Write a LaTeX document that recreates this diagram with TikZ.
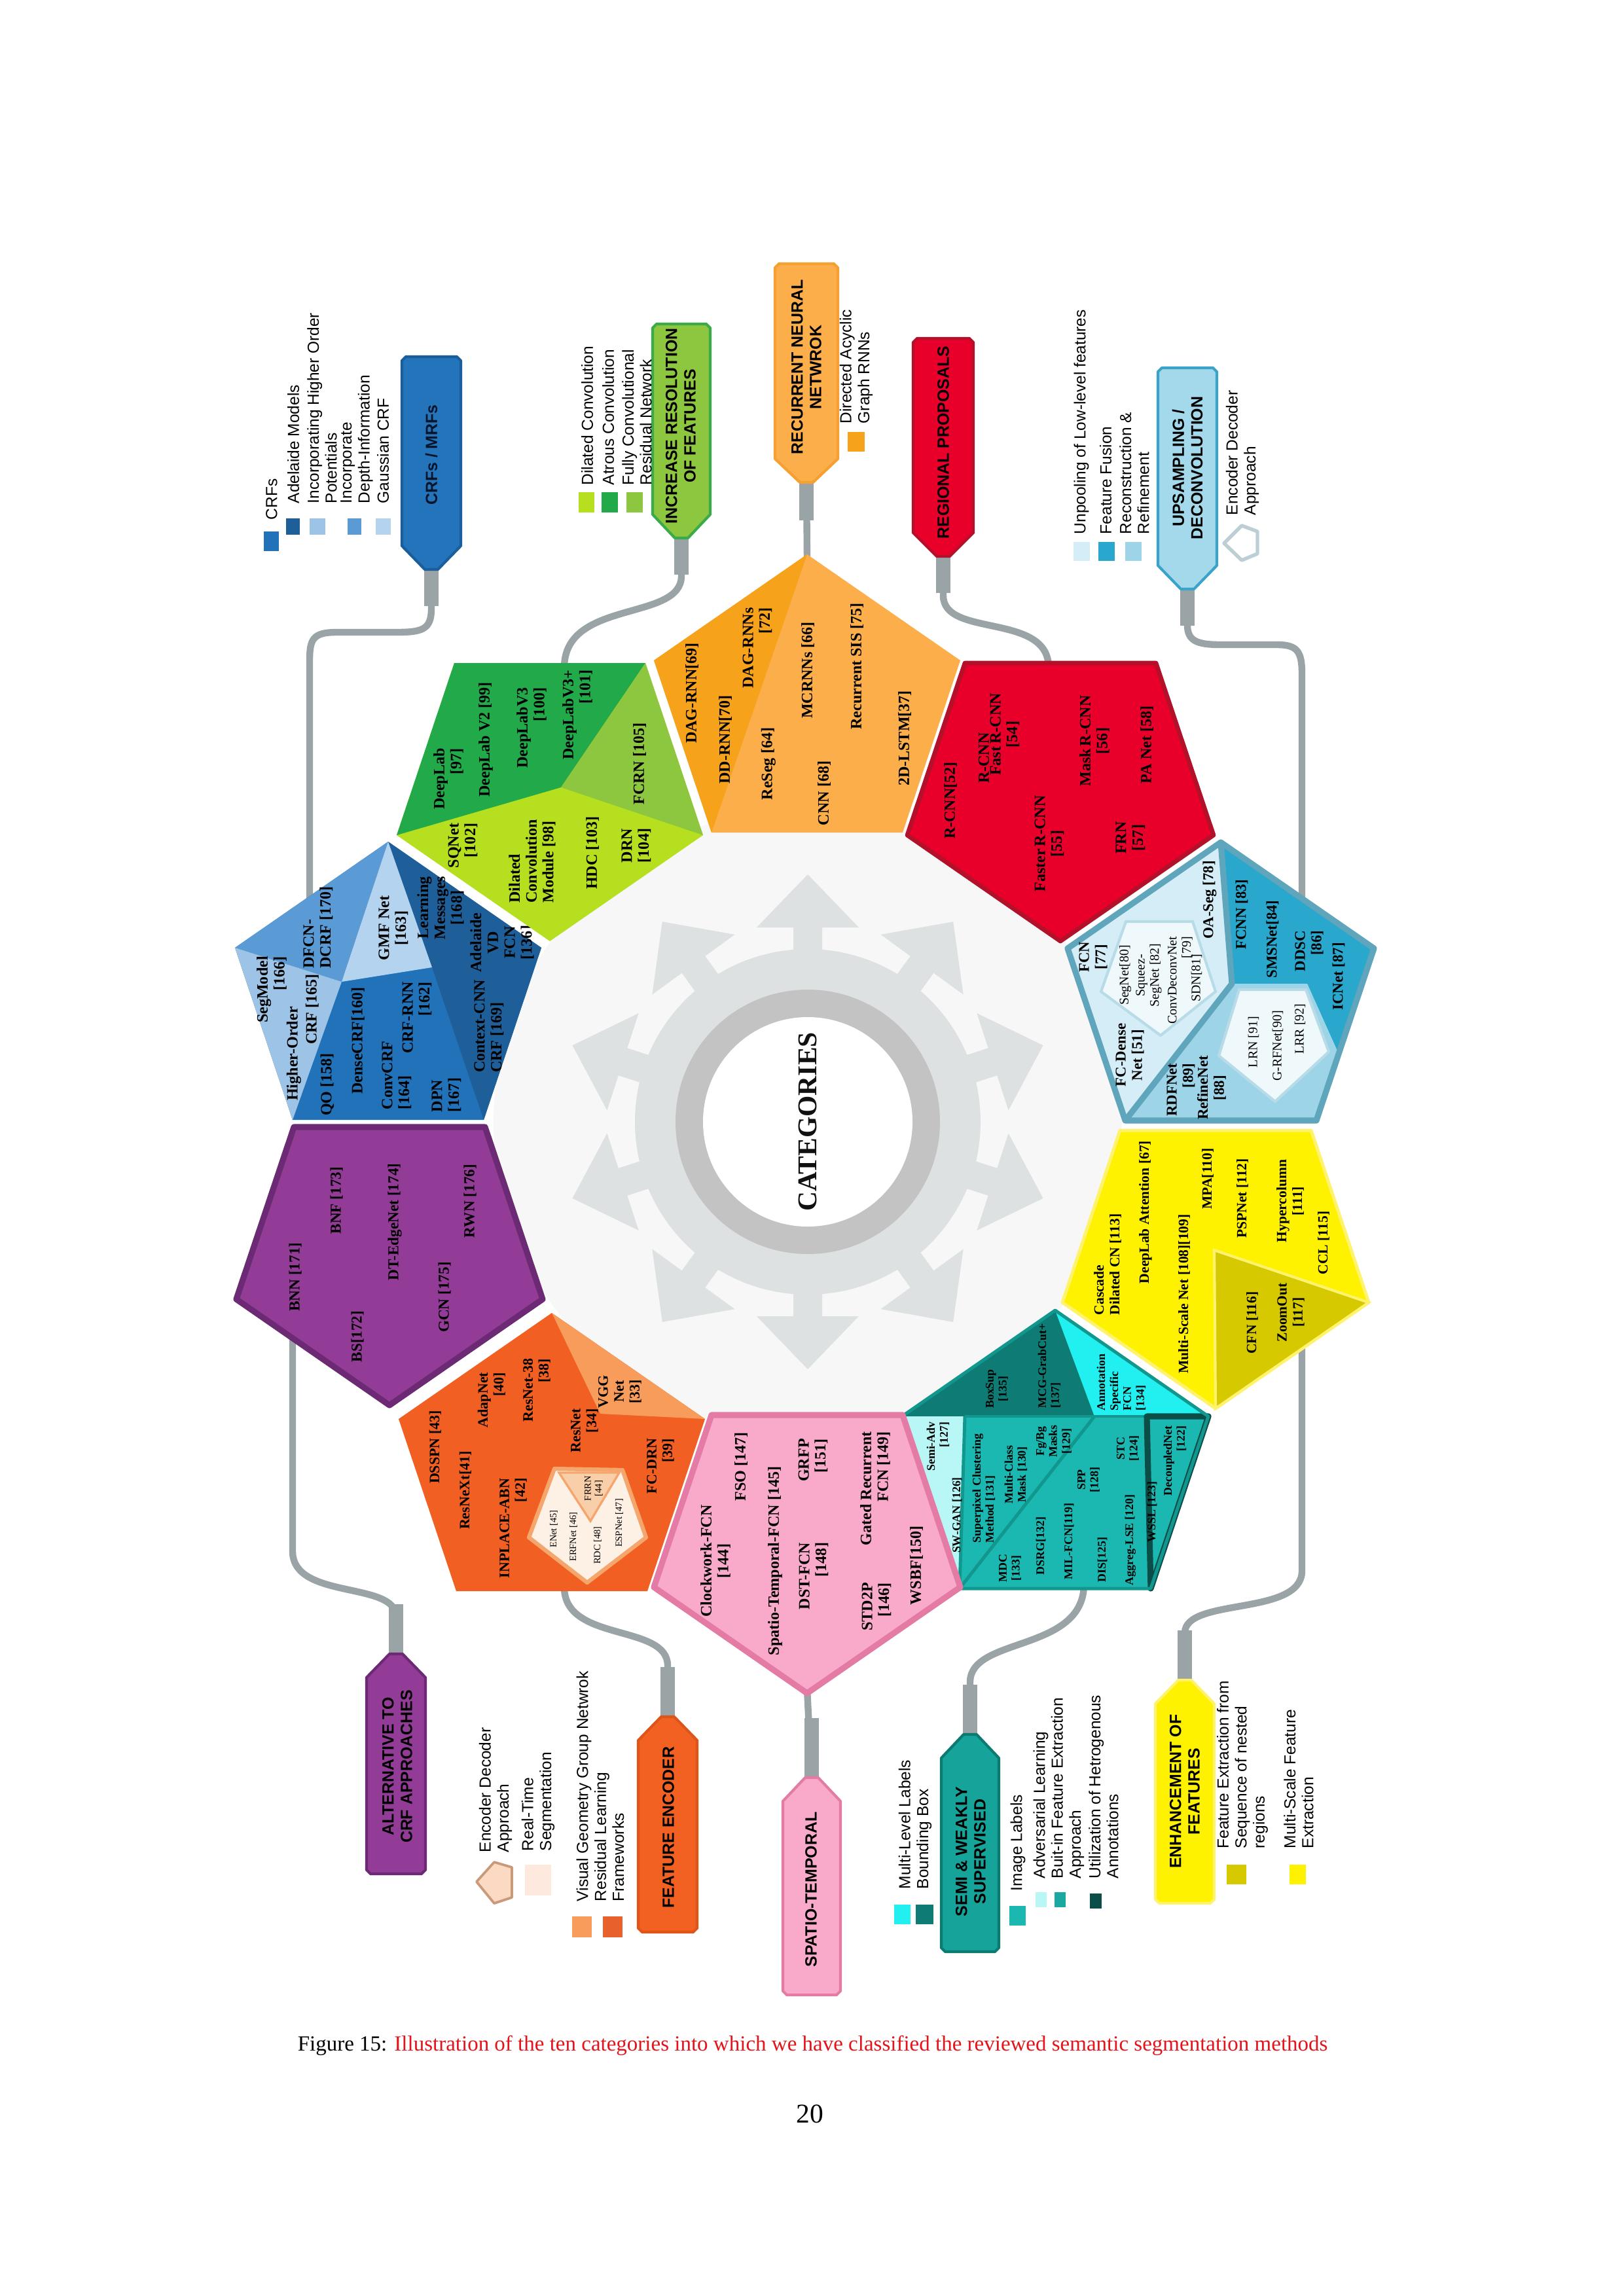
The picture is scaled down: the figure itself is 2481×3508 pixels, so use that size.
\documentclass[tikz,border=0pt]{standalone}
\usepackage{fontspec}
\setmainfont{Liberation Serif}
\setsansfont{Liberation Sans}
\usetikzlibrary{positioning}

\definecolor{linkgrey}{HTML}{9AA3A6}
\definecolor{discback}{HTML}{F7F7F7}
\definecolor{gearlight}{HTML}{DDE1E2}
\definecolor{gearring}{HTML}{C3C3C3}
\definecolor{gearcore}{HTML}{FFFFFF}
\definecolor{cattext}{HTML}{111111}
\definecolor{crfA}{HTML}{5B9BD5}
\definecolor{crfB}{HTML}{9DC3E6}
\definecolor{crfC}{HTML}{B4D3EF}
\definecolor{crfD}{HTML}{1F5F99}
\definecolor{crfE}{HTML}{2272B9}
\definecolor{crftab}{HTML}{2474BB}
\definecolor{crftabline}{HTML}{1B5E9C}
\definecolor{crftext}{HTML}{06152A}
\definecolor{irdark}{HTML}{22A94A}
\definecolor{irolive}{HTML}{8DC63F}
\definecolor{irlime}{HTML}{B6E01F}
\definecolor{irtabline}{HTML}{3BAA48}
\definecolor{rnndark}{HTML}{F7A21B}
\definecolor{rnnlight}{HTML}{FBAE4A}
\definecolor{rnntabline}{HTML}{F5A030}
\definecolor{rpred}{HTML}{E8002B}
\definecolor{rpline}{HTML}{B3102A}
\definecolor{uplight}{HTML}{D5EDF6}
\definecolor{upteal}{HTML}{2AA7CC}
\definecolor{upmid}{HTML}{9DD4E7}
\definecolor{upinner}{HTML}{EFF8FB}
\definecolor{upinnerline}{HTML}{B7DCE8}
\definecolor{upline}{HTML}{5FA5BC}
\definecolor{uptab}{HTML}{A4D8EB}
\definecolor{uptabline}{HTML}{3BA3C9}
\definecolor{upicon}{HTML}{BCCFD5}
\definecolor{enyellow}{HTML}{FFF200}
\definecolor{enolive}{HTML}{D6C900}
\definecolor{enline}{HTML}{FFF36E}
\definecolor{sedark}{HTML}{0E7C74}
\definecolor{secyan}{HTML}{22F0F0}
\definecolor{selight}{HTML}{B9F6F6}
\definecolor{semain}{HTML}{1AB8B0}
\definecolor{seborder}{HTML}{0B4E49}
\definecolor{seline}{HTML}{12978F}
\definecolor{setab}{HTML}{16A399}
\definecolor{setabline}{HTML}{0B7A71}
\definecolor{seleg}{HTML}{19A9A0}
\definecolor{stpink}{HTML}{F9A9C9}
\definecolor{stline}{HTML}{E47BA4}
\definecolor{femain}{HTML}{F15F22}
\definecolor{felight}{HTML}{F89C5C}
\definecolor{feinner}{HTML}{FDF0E4}
\definecolor{feinnerline}{HTML}{F4A66D}
\definecolor{fetri}{HTML}{F8CFA8}
\definecolor{fetab}{HTML}{F26122}
\definecolor{fetabline}{HTML}{DD5519}
\definecolor{felegpale}{HTML}{FDE9DD}
\definecolor{felegicon}{HTML}{FCD9C2}
\definecolor{felegiconline}{HTML}{C89A7A}
\definecolor{felegdark}{HTML}{E8602A}
\definecolor{alpurple}{HTML}{933C97}
\definecolor{alline}{HTML}{6D2A74}
\definecolor{capred}{HTML}{E3141B}

% pentagon outlines: centre x, top y
\newcommand{\pentup}[2]{(#1,#2) -- ({#1+234},{#2+162}) -- ({#1+146},{#2+425}) -- ({#1-146},{#2+425}) -- ({#1-234},{#2+162}) -- cycle}
\newcommand{\pentdown}[2]{({#1-146},#2) -- ({#1+146},#2) -- ({#1+234},{#2+263}) -- (#1,{#2+425}) -- ({#1-234},{#2+263}) -- cycle}
% category tabs: centre x, half width, first y, second y
\newcommand{\tabdown}[4]{({#1-#2},{#3+6}) -- ({#1-#2+6},#3) -- ({#1+#2-6},#3) -- ({#1+#2},{#3+6}) -- ({#1+#2},{#4-36}) -- ({#1+10},#4) -- ({#1-10},#4) -- ({#1-#2},{#4-36}) -- cycle}
\newcommand{\tabup}[4]{({#1-10},#3) -- ({#1+10},#3) -- ({#1+#2},{#3+36}) -- ({#1+#2},{#4-6}) -- ({#1+#2-6},#4) -- ({#1-#2+6},#4) -- ({#1-#2},{#4-6}) -- ({#1-#2},{#3+36}) -- cycle}

\tikzset{
  link/.style={draw=linkgrey, line width=2.5pt},
  plug/.style={draw=linkgrey, line width=5.4pt},
  tabshape/.style={line width=1pt, line join=round},
  tablabel/.style={rotate=90, inner sep=0pt, align=center, font=\sffamily\bfseries\fontsize{6}{6.8}\selectfont},
  legtext/.style={rotate=90, inner sep=0pt, anchor=west, align=left, font=\sffamily\fontsize{5.9}{6.6}\selectfont},
  ptext/.style={rotate=90, inner sep=0pt, font=\bfseries\fontsize{5.8}{6.2}\selectfont},
  ptup/.style={ptext, font=\bfseries\fontsize{5.5}{6}\selectfont},
  ptin/.style={ptext, font=\fontsize{4.8}{5.2}\selectfont},
  ptenh/.style={ptext, font=\bfseries\fontsize{5.2}{5.8}\selectfont},
  ptsemi/.style={ptext, font=\bfseries\fontsize{4.3}{4.8}\selectfont},
  ptfe/.style={ptext, font=\bfseries\fontsize{5.3}{5.8}\selectfont},
  pttiny/.style={ptext, font=\fontsize{3.5}{3.9}\selectfont},
  ptalt/.style={ptext, font=\bfseries\fontsize{5.6}{6.1}\selectfont},
  flushleft/.style={align=left},
  flushright/.style={align=right},
  centred/.style={align=center}
}

\begin{document}
\begin{tikzpicture}[x=0.0846667mm, y=-0.0846667mm]
\useasboundingbox (0,0) rectangle (2481,3508);
\fill[white] (0,0) rectangle (2481,3508);

% hub with ten arrows
\coordinate (hub) at (1234,1714);
\fill[discback] (hub) circle (480);
\fill[gearlight] (hub) circle (264);
\foreach \ang in {18,54,...,342}{
  \begin{scope}[shift={(hub)}, rotate=\ang]
    \fill[gearlight] (240,-22) -- (297,-22) -- (297,-78) -- (378,0) -- (297,78) -- (297,22) -- (240,22) -- cycle;
  \end{scope}
}
\fill[gearring] (hub) circle (202);
\fill[gearcore] (hub) circle (160);
\node[rotate=90, text=cattext, font=\bfseries\fontsize{10}{12}\selectfont] (cat) at (hub) {CATEGORIES};

% connectors
\coordinate (crfTip) at (659,866);  \coordinate (crfIn) at (473,1376);
\coordinate (irTip) at (1041,818);  \coordinate (irIn) at (862,1020);
\coordinate (rnnTip) at (1232,733); \coordinate (rnnIn) at (1233,855);
\coordinate (rpTip) at (1441,846);  \coordinate (rpIn) at (1602,1020);
\coordinate (upTip) at (1814,896);  \coordinate (upIn) at (1989,1380);
\coordinate (alTip) at (605,2531);  \coordinate (alIn) at (447,2040);
\coordinate (feTip) at (1020,2627); \coordinate (feIn) at (862,2425);
\coordinate (stTip) at (1240,2720); \coordinate (stIn) at (1233,2580);
\coordinate (seTip) at (1482,2654); \coordinate (seIn) at (1656,2420);
\coordinate (enTip) at (1810,2571); \coordinate (enIn) at (1989,2055);

\draw[link] (crfTip) -- (659,930) .. controls (659,962) and (645,966) .. (605,966) -- (515,966) .. controls (478,966) and (473,976) .. (473,1010) -- (crfIn);
\draw[link] (irTip) -- (1041,880) .. controls (1041,950) and (862,915) .. (irIn);
\draw[link] (rnnTip) -- (rnnIn);
\draw[link] (rpTip) -- (1441,910) .. controls (1441,975) and (1602,935) .. (rpIn);
\draw[link] (upTip) -- (1814,955) .. controls (1814,980) and (1830,985) .. (1865,985) -- (1950,985) .. controls (1982,985) and (1989,995) .. (1989,1030) -- (upIn);
\draw[link] (alIn) -- (447,2370) .. controls (447,2445) and (605,2415) .. (605,2470) -- (alTip);
\draw[link] (feIn) .. controls (862,2510) and (1020,2480) .. (1020,2545) -- (feTip);
\draw[link] (stIn) -- (stTip);
\draw[link] (seIn) .. controls (1656,2525) and (1482,2500) .. (1482,2570) -- (seTip);
\draw[link] (enIn) -- (1989,2400) .. controls (1989,2470) and (1810,2440) .. (1810,2495) -- (enTip);
\foreach \p in {crfTip,irTip,rpTip,upTip}
  \draw[plug] (\p) -- ++(0,60);
\draw[plug] (rnnTip) -- ++(0,62);
\foreach \p in {alTip,feTip,seTip,enTip}
  \draw[plug] (\p) -- ++(0,-80);
\draw[plug] (stTip) -- ++(0,-95);

% CRFs / MRFs
\fill[crfE] \pentup{593}{1286};
\fill[crfD] (593,1286) -- (827,1448) -- (739,1711) -- (660,1478) -- cycle;
\fill[crfA] (593,1286) -- (359,1448) -- (522,1500) -- cycle;
\fill[crfB] (359,1448) -- (522,1500) -- (447,1711) -- cycle;
\fill[crfC] (593,1286) -- (522,1500) -- (660,1478) -- cycle;
\node[ptext, flushright] (segmodel) at (415,1512) {SegModel\\{}[166]};
\node[ptext] (higherorder) at (449,1610) {Higher-Order};
\node[ptext] (crf165) at (477,1542) {CRF [165]};
\node[ptext, flushleft] (dfcn) at (486,1417) {DFCN-\\DCRF [170]};
\node[ptext, centred] (gmf) at (601,1418) {GMF Net\\{}[163]};
\node[ptext, centred] (learnmsg) at (673,1387) {Learning\\Messages\\{}[168]};
\node[ptext, centred] (adelaide) at (767,1440) {Adelaide\\VD\\FCN\\{}[136]};
\node[ptext] (qo) at (500,1657) {QO [158]};
\node[ptext] (densecrf) at (547,1590) {DenseCRF[160]};
\node[ptext, flushleft] (convcrf) at (606,1643) {ConvCRF\\{}[164]};
\node[ptext, flushright] (crfrnn) at (637,1555) {CRF-RNN\\{}[162]};
\node[ptext, flushleft] (dpn) at (682,1673) {DPN\\{}[167]};
\node[ptext, flushleft] (contextcnn) at (747,1568) {Context-CNN\\CRF [169]};

% increase resolution
\fill[irlime] \pentdown{840}{1013};
\fill[irdark] (694,1013) -- (986,1013) -- (857,1203) -- (606,1276) -- cycle;
\fill[irolive] (986,1013) -- (1074,1276) -- (857,1203) -- cycle;
\node[ptext, flushright] (deeplab) at (685,1190) {DeepLab\\{}[97]};
\node[ptext] (deeplabtwo) at (742,1130) {DeepLab V2 [99]};
\node[ptext, flushright] (deeplabthree) at (812,1112) {DeepLabV3\\{}[100]};
\node[ptext, flushright] (deeplabplus) at (882,1092) {DeepLabV3+\\{}[101]};
\node[ptext] (fcrn) at (977,1167) {FCRN [105]};
\node[ptext, flushright] (sqnet) at (707,1292) {SQNet\\{}[102]};
\node[ptext, flushleft] (dilconv) at (813,1316) {Dilated\\Convolution\\Module [98]};
\node[ptext] (hdc) at (905,1303) {HDC [103]};
\node[ptext, flushright] (drn) at (972,1292) {DRN\\{}[104]};

% recurrent
\fill[rnnlight] \pentup{1233}{847};
\fill[rnndark] (1233,847) -- (999,1009) -- (1087,1272) -- cycle;
\node[ptext] (dagrnn) at (1057,1059) {DAG-RNN[69]};
\node[ptext] (ddrnn) at (1108,1130) {DD-RNN[70]};
\node[ptext, flushright] (dagrnns) at (1157,990) {DAG-RNNs\\{}[72]};
\node[ptext] (reseg) at (1174,1167) {ReSeg [64]};
\node[ptext] (mcrnns) at (1234,1024) {MCRNNs [66]};
\node[ptext] (cnn68) at (1259,1212) {CNN [68]};
\node[ptext] (recsis) at (1309,1018) {Recurrent SIS [75]};
\node[ptext] (lstm) at (1382,1128) {2D-LSTM[37]};

% regional proposals
\filldraw[fill=rpred, draw=rpline, line width=1.6pt, line join=round] \pentdown{1620}{1013};
\node[ptext] (rcnn) at (1452,1223) {R-CNN[52]};
\node[ptext] (rcnnb) at (1503,1158) {R-CNN};
\node[ptext, centred] (fastrcnn) at (1535,1122) {Fast\,R-CNN\\{}[54]};
\node[ptext, centred] (fasterrcnn) at (1603,1289) {Faster\,R-CNN\\{}[55]};
\node[ptext, centred] (maskrcnn) at (1672,1132) {Mask\,R-CNN\\{}[56]};
\node[ptext] (panet) at (1752,1138) {PA Net [58]};
\node[ptext, centred] (frn) at (1727,1280) {FRN\\{}[57]};

% upsampling
\fill[uplight] \pentup{1865}{1287};
\fill[upteal] (1865,1287) -- (2099,1449) -- (2045,1610) -- (1997,1503) -- (1882,1503) -- cycle;
\fill[upmid] (1882,1503) -- (1997,1503) -- (2045,1610) -- (2011,1712) -- (1719,1712) -- cycle;
\filldraw[fill=upinner, draw=upinnerline, line width=1pt] (1893,1512) -- (1995,1512) -- (2030,1607) -- (1948,1683) -- (1862,1613) -- cycle;
\filldraw[fill=upinner, draw=upinnerline, line width=1pt] (1720,1408) -- (1822,1408) -- (1857,1515) -- (1773,1582) -- (1682,1515) -- cycle;
\draw[upline, line width=2.2pt, line join=round] (1865,1287) -- (1882,1503) -- (1719,1712);
\draw[upline, line width=2.2pt, line join=round] \pentup{1865}{1287};
\node[ptup, centred] (fcn77) at (1670,1462) {FCN\\{}[77]};
\node[ptup] (oaseg) at (1848,1375) {OA-Seg [78]};
\node[ptup, centred] (fcdense) at (1726,1612) {FC-Dense\\Net [51]};
\node[ptup] (fcnn) at (1897,1397) {FCNN [83]};
\node[ptup] (smsnet) at (1944,1435) {SMSNet[84]};
\node[ptup, flushright] (ddsc) at (2000,1453) {DDSC\\{}[86]};
\node[ptup] (icnet) at (2045,1492) {ICNet [87]};
\node[ptup, flushright] (rdfnet) at (1804,1665) {RDFNet\\{}[89]};
\node[ptup, centred] (refinenet) at (1851,1662) {RefineNet\\{}[88]};
\node[ptin] (segnet) at (1719,1490) {SegNet[80]};
\node[ptin, centred] (squeeze) at (1755,1490) {Squeez-\\SegNet [82]};
\node[ptin, flushright] (convdeconv) at (1803,1498) {ConvDeconvNet\\{}[79]};
\node[ptin] (sdn) at (1828,1494) {SDN[81]};
\node[ptin] (lrn) at (1915,1592) {LRN [91]};
\node[ptin] (grfnet) at (1952,1598) {G-RFNet[90]};
\node[ptin] (lrr) at (1986,1572) {LRR [92]};

% enhancement
\filldraw[fill=enyellow, draw=enline, line width=1.2pt, line join=round] \pentdown{1857}{1727};
\filldraw[fill=enolive, draw=enline, line width=1pt] (1855,1910) -- (2091,1990) -- (1857,2152) -- cycle;
\node[ptenh, flushleft] (cascade) at (1692,1932) {Cascade\\Dilated CN [113]};
\node[ptenh] (dlattention) at (1750,1852) {DeepLab Attention [67]};
\node[ptenh] (multiscale) at (1809,1977) {Multi-Scale Net [108][109]};
\node[ptenh] (mpa) at (1845,1801) {MPA[110]};
\node[ptenh] (pspnet) at (1898,1831) {PSPNet [112]};
\node[ptenh, centred] (hypercol) at (1971,1835) {Hypercolumn\\{}[111]};
\node[ptenh] (ccl) at (2022,1899) {CCL [115]};
\node[ptenh] (cfn) at (1913,2021) {CFN [116]};
\node[ptenh, centred] (zoomout) at (1972,2005) {ZoomOut\\{}[117]};

% semi and weakly supervised
\fill[semain] \pentup{1612}{2002};
\fill[sedark] (1612,2002) -- (1378,2164) -- (1672,2164) -- cycle;
\fill[secyan] (1612,2002) -- (1672,2164) -- (1846,2164) -- cycle;
\fill[selight] (1378,2164) -- (1474,2164) -- (1466,2427) -- cycle;
\draw[seline, line width=1.2pt] (1474,2164) -- (1466,2427);
\draw[seline, line width=1.2pt] (1466,2427) -- (1672,2164);
\draw[seline, line width=1pt] (1474,2164) -- (1752,2164);
\draw[seborder, line width=2.2pt, line join=round] (1758,2427) -- (1752,2164) -- (1846,2164) -- cycle;
\draw[seline, line width=1.2pt, line join=round] \pentup{1612}{2002};
\node[ptsemi, centred] (boxsup) at (1523,2122) {BoxSup\\{}[135]};
\node[ptsemi, flushleft] (mcg) at (1603,2087) {MCG-GrabCut+\\{}[137]};
\node[ptsemi, flushleft] (annot) at (1713,2112) {Annotation\\Specific\\FCN\\{}[134]};
\node[ptsemi, flushright] (semiadv) at (1433,2210) {Semi-Adv\\{}[127]};
\node[ptsemi] (swgan) at (1462,2315) {SW-GAN [126]};
\node[ptsemi, flushleft] (superpixel) at (1503,2274) {Superpixel Clustering\\Method [131]};
\node[ptsemi, centred] (multiclass) at (1552,2253) {Multi-Class\\Mask [130]};
\node[ptsemi, centred] (fgbg) at (1610,2202) {Fg/Bg\\Masks\\{}[129]};
\node[ptsemi, centred] (mdc) at (1543,2396) {MDC\\{}[133]};
\node[ptsemi] (dsrg) at (1590,2362) {DSRG[132]};
\node[ptsemi] (milfcn) at (1633,2355) {MIL-FCN[119]};
\node[ptsemi, centred] (spp) at (1663,2261) {SPP\\{}[128]};
\node[ptsemi] (dis) at (1684,2383) {DIS[125]};
\node[ptsemi, centred] (stc) at (1723,2213) {STC\\{}[124]};
\node[ptsemi] (aggreg) at (1727,2353) {Aggreg-LSE [120]};
\node[ptsemi] (wssl) at (1760,2310) {WSSL [123]};
\node[ptsemi, flushright] (decoupled) at (1795,2232) {DecoupledNet\\{}[122]};

% spatio-temporal
\filldraw[fill=stpink, draw=stline, line width=2.2pt, line join=round] \pentdown{1233}{2162};
\node[ptext, centred] (clockwork) at (1093,2385) {Clockwork-FCN\\{}[144]};
\node[ptext] (fso) at (1132,2241) {FSO [147]};
\node[ptext] (stfcn) at (1184,2385) {Spatio-Temporal-FCN [145]};
\node[ptext, flushright] (grfp) at (1242,2231) {GRFP\\{}[151]};
\node[ptext, flushright] (dstfcn) at (1243,2408) {DST-FCN\\{}[148]};
\node[ptext, flushright] (gated) at (1337,2274) {Gated Recurrent\\FCN [149]};
\node[ptext, flushright] (stdtwop) at (1339,2455) {STD2P\\{}[146]};
\node[ptext] (wsbf) at (1400,2392) {WSBF[150]};

% feature encoder
\fill[femain] \pentup{843}{2006};
\fill[felight] (843,2006) -- (1077,2168) -- (917,2160) -- cycle;
\filldraw[fill=feinner, draw=feinnerline, line width=1.5pt, line join=round] (847,2244) -- (951,2246) -- (987,2349) -- (897,2418) -- (808,2349) -- cycle;
\filldraw[fill=fetri, draw=feinnerline, line width=0.8pt] (854,2250) -- (946,2250) -- (902,2324) -- cycle;
\node[ptfe] (dsspn) at (665,2211) {DSSPN [43]};
\node[ptfe] (resnext) at (711,2277) {ResNeXt[41]};
\node[ptfe, flushright] (adapnet) at (751,2139) {AdapNet\\{}[40]};
\node[ptfe, flushright] (resnetb) at (820,2124) {ResNet-38\\{}[38]};
\node[ptfe, centred] (vgg) at (947,2126) {VGG\\Net\\{}[33]};
\node[ptfe, flushright] (resnet) at (893,2186) {ResNet\\{}[34]};
\node[ptfe, flushright] (inplace) at (784,2335) {INPLACE-ABN\\{}[42]};
\node[ptfe, flushright] (fcdrn) at (1009,2240) {FC-DRN\\{}[39]};
\node[pttiny, centred] (frrn) at (907,2274) {FRRN\\{}[44]};
\node[pttiny] (enet) at (846,2336) {ENet [45]};
\node[pttiny] (erfnet) at (876,2348) {ERFNet [46]};
\node[pttiny] (rdc) at (913,2361) {RDC [48]};
\node[pttiny] (espnet) at (946,2327) {ESPNet [47]};

% alternative to crf
\filldraw[fill=alpurple, draw=alline, line width=2.2pt, line join=round] \pentdown{595}{1722};
\node[ptalt] (bnn) at (451,1951) {BNN [171]};
\node[ptalt] (bnf) at (514,1834) {BNF [173]};
\node[ptalt] (bs) at (546,2042) {BS[172]};
\node[ptalt] (dtedge) at (603,1867) {DT-EdgeNet [174]};
\node[ptalt] (gcn) at (679,1982) {GCN [175]};
\node[ptalt] (rwn) at (718,1835) {RWN [176]};

% category tabs
\filldraw[tabshape, fill=crftab, draw=crftabline] \tabdown{659}{45}{545}{870};
\node[tablabel, text=crftext] (crfLabel) at (659,695) {CRFs / MRFs};
\filldraw[tabshape, fill=irolive, draw=irtabline] \tabdown{1041}{44}{495}{822};
\node[tablabel] (irLabel) at (1040,651) {INCREASE RESOLUTION\\OF FEATURES};
\filldraw[tabshape, fill=rnnlight, draw=rnntabline] \tabdown{1232}{48}{403}{737};
\node[tablabel] (rnnLabel) at (1232,561) {RECURRENT NEURAL\\NETWROK};
\filldraw[tabshape, fill=rpred, draw=rpline] \tabdown{1441}{46}{517}{850};
\node[tablabel] (rpLabel) at (1441,676) {REGIONAL PROPOSALS};
\filldraw[tabshape, fill=uptab, draw=uptabline] \tabdown{1814}{45}{562}{900};
\node[tablabel] (upLabel) at (1814,715) {UPSAMPLING /\\DECONVOLUTION};
\filldraw[tabshape, fill=alpurple, draw=alline] \tabup{605}{45}{2527}{2863};
\node[tablabel] (alLabel) at (607,2699) {ALTERNATIVE TO\\CRF APPROACHES};
\filldraw[tabshape, fill=fetab, draw=fetabline] \tabup{1020}{45}{2623}{2952};
\node[tablabel] (feLabel) at (1021,2792) {FEATURE ENCODER};
\filldraw[tabshape, fill=stpink, draw=stline] \tabup{1240}{44}{2716}{3048};
\node[tablabel] (stLabel) at (1239,2887) {SPATIO-TEMPORAL};
\filldraw[tabshape, fill=setab, draw=setabline] \tabup{1482}{44}{2650}{2982};
\node[tablabel] (seLabel) at (1483,2829) {SEMI \& WEAKLY\\SUPERVISED};
\filldraw[tabshape, fill=enyellow, draw=enline] \tabup{1810}{45}{2567}{2908};
\node[tablabel] (enLabel) at (1810,2737) {ENHANCEMENT OF\\FEATURES};

% legends, top
\fill[crfE] (403,812) rectangle (426,842);
\fill[crfD] (437,792) rectangle (458,817);
\fill[crfB] (473,792) rectangle (497,817);
\fill[crfA] (531,792) rectangle (552,817);
\fill[crfC] (574,792) rectangle (597,817);
\node[legtext] (legCrf1) at (415,795) {CRFs};
\node[legtext] (legCrf2) at (448,770) {Adelaide Models};
\node[legtext] (legCrf3) at (492,770) {Incorporating Higher Order\\Potentials};
\node[legtext] (legCrf4) at (545,770) {Incorporate\\Depth-Information};
\node[legtext] (legCrf5) at (585,770) {Gaussian CRF};

\fill[irlime] (884,752) rectangle (908,783);
\fill[irdark] (919,752) rectangle (944,783);
\fill[irolive] (957,752) rectangle (982,783);
\node[legtext] (legIr1) at (897,742) {Dilated Convolution};
\node[legtext] (legIr2) at (929,742) {Atrous Convolution};
\node[legtext] (legIr3) at (973,742) {Fully Convolutional\\Residual Network};

\fill[rnndark] (1295,660) rectangle (1321,690);
\node[legtext] (legRnn) at (1308,648) {Directed Acyclic\\Graph RNNs};

\fill[uplight] (1640,828) rectangle (1665,857);
\fill[upteal] (1678,828) rectangle (1703,857);
\fill[upmid] (1719,828) rectangle (1744,857);
\node[legtext] (legUp1) at (1652,817) {Unpooling of Low-level features};
\node[legtext] (legUp2) at (1689,817) {Feature Fusion};
\node[legtext] (legUp3) at (1733,817) {Reconstruction \&\\Refinement};
\filldraw[fill=white, draw=upicon, line width=1.3pt, line join=round] (1870,830) -- (1897,803) -- (1921,812) -- (1921,846) -- (1897,856) -- cycle;
\node[legtext] (legUp4) at (1898,788) {Encoder Decoder\\Approach};

% legends, bottom
\filldraw[fill=felegicon, draw=felegiconline, line width=0.9pt, line join=round] (728,2875) -- (755,2845) -- (782,2853) -- (782,2899) -- (755,2908) -- cycle;
\node[legtext] (legFe1) at (757,2831) {Encoder Decoder\\Approach};
\fill[felegpale] (802,2849) rectangle (842,2896);
\node[legtext] (legFe2) at (822,2829) {Real-Time\\Segmentation};
\fill[felight] (874,2928) rectangle (904,2960);
\fill[felegdark] (921,2928) rectangle (951,2960);
\node[legtext] (legFe3) at (917,2906) {Visual Geometry Group Netwrok\\Residual Learning\\Frameworks};

\fill[secyan] (1366,2910) rectangle (1391,2940);
\fill[sedark] (1399,2910) rectangle (1426,2940);
\node[legtext] (legSe1) at (1398,2887) {Multi-Level Labels\\Bounding Box};
\fill[semain] (1542,2912) rectangle (1567,2942);
\node[legtext] (legSe2) at (1555,2890) {Image Labels};
\fill[selight] (1582,2891) rectangle (1599,2914);
\node[legtext] (legSe3) at (1590,2871) {Adversarial Learning};
\fill[seleg] (1611,2891) rectangle (1628,2914);
\node[legtext] (legSe4) at (1631,2871) {Buit-in Feature Extraction\\Approach};
\fill[seborder] (1665,2893) rectangle (1683,2916);
\node[legtext] (legSe5) at (1686,2871) {Utilization of Hetrogenous\\Annotations};

\fill[enolive] (1874,2849) rectangle (1904,2879);
\node[legtext] (legEn1) at (1898,2825) {Feature Extraction from\\Sequence of nested\\regions};
\fill[enyellow] (1970,2849) rectangle (1995,2879);
\node[legtext] (legEn2) at (1984,2825) {Multi-Scale Feature\\Extraction};

% caption and page number
\node[anchor=base west, inner sep=0pt, font=\fontsize{7.95}{9.5}\selectfont] (caption) at (454,3133) {Figure 15: \textcolor{capred}{Illustration of the ten categories into which we have classified the reviewed semantic segmentation methods}};
\node[anchor=base, inner sep=0pt, font=\fontsize{10}{12}\selectfont] (pagenum) at (1237,3243) {20};
\end{tikzpicture}
\end{document}
